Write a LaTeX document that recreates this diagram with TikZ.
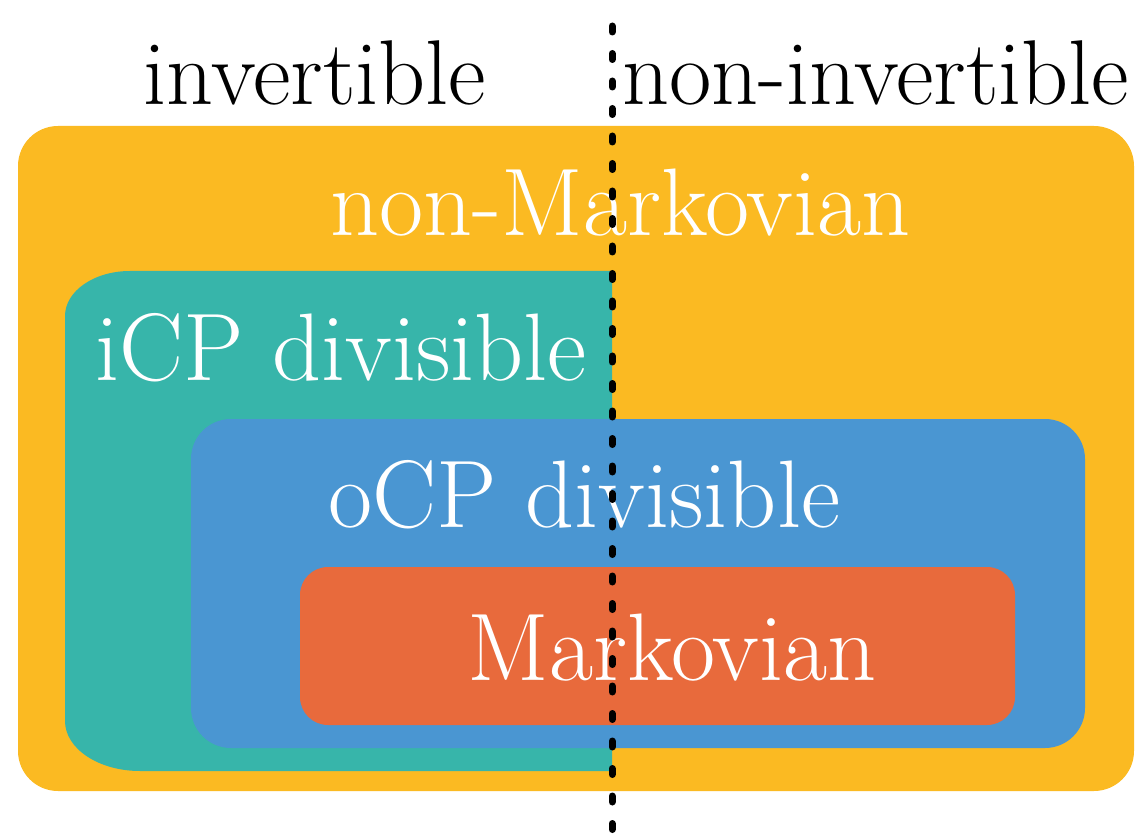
\documentclass[tikz,border=0pt]{standalone}
\begin{document}
\begin{tikzpicture}[x=0.5pt,y=-0.5pt,
  blacklabel/.style={anchor=base west,inner sep=0pt,text=black,font=\fontsize{46}{50}\selectfont},
  whitelabel/.style={anchor=base west,inner sep=0pt,text=white,font=\fontsize{48}{52}\selectfont},
  divider/.style={line width=3.5pt,line cap=round,dash pattern=on 3pt off 10.75pt}]
\definecolor{nmyellow}{HTML}{FBBA22}
\definecolor{icpteal}{HTML}{37B5AA}
\definecolor{ocpblue}{HTML}{4A96D2}
\definecolor{markorange}{HTML}{E86A3C}
\useasboundingbox (0,0) rectangle (1148,840);
% nested classes of dynamical maps
\fill[nmyellow,rounded corners=20pt] (18,126) rectangle (1134,791);
\fill[icpteal] (612,271) -- (130,271)
  arc[start angle=-90,end angle=-180,x radius=65,y radius=45]
  -- (65,721)
  arc[start angle=-180,end angle=-270,x radius=75,y radius=50]
  -- (612,771) -- cycle;
\fill[ocpblue,rounded corners=20pt] (191,419) rectangle (1085,748);
\fill[markorange,rounded corners=14pt] (300,567) rectangle (1015,725);
% labels
\node[blacklabel] (inv) at (143,105) {invertible};
\node[blacklabel] (noninv) at (622,105) {non-invertible};
\node[whitelabel] (nonmark) at (330,235) {non-Markovian};
\node[whitelabel] (icp) at (95,380) {iCP divisible};
\node[whitelabel] (ocp) at (328,527) {oCP divisible};
\node[whitelabel] (mark) at (467,680) {Markovian};
% invertible / non-invertible divide
\coordinate (divtop) at (612,26);
\coordinate (divbot) at (612,832);
\draw[divider] (divtop) -- (divbot);
\end{tikzpicture}
\end{document}
